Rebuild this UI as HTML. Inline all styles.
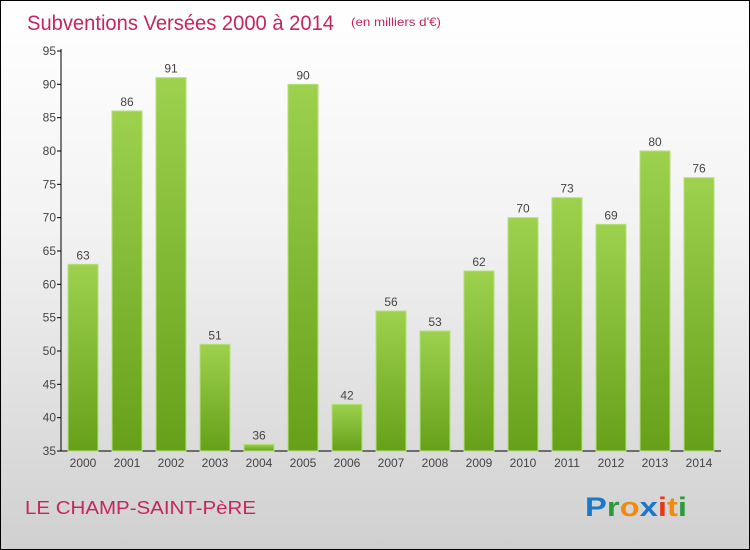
<!DOCTYPE html>
<html><head><meta charset="utf-8"><style>
body{margin:0}
#c{width:748px;height:548px;border:1px solid #000;background:linear-gradient(#ffffff,#f3f3f3 40%,#d0d0d0);position:relative;font-family:"Liberation Sans",sans-serif;overflow:hidden}
</style></head><body>
<div id="c">
<svg width="748" height="548" id="s">
<defs><linearGradient id="g" x1="0" y1="0" x2="0" y2="1"><stop offset="0" stop-color="#9dd14e"/><stop offset="1" stop-color="#66a019"/></linearGradient></defs>
<text x="26" y="29" font-size="21" fill="#c8245f" textLength="307" lengthAdjust="spacingAndGlyphs">Subventions Versées 2000 à 2014</text>
<text x="350" y="25" font-size="12" fill="#c8245f" textLength="90" lengthAdjust="spacingAndGlyphs">(en milliers d'€)</text>
<text x="24" y="513" font-size="18" fill="#c8245f" textLength="231" lengthAdjust="spacingAndGlyphs">LE CHAMP-SAINT-PèRE</text>
<text x="584" y="515" font-size="27" font-weight="bold" textLength="102" lengthAdjust="spacingAndGlyphs"><tspan fill="#1a78c8">P</tspan><tspan fill="#2a9a3a">r</tspan><tspan fill="#f08a10">o</tspan><tspan fill="#1a78c8">x</tspan><tspan fill="#e53a1a">i</tspan><tspan fill="#f08a10">t</tspan><tspan fill="#2a9a3a">i</tspan></text>
<g id="plot"></g>
</svg></div>
<script>
const categories=["2000","2001","2002","2003","2004","2005","2006","2007","2008","2009","2010","2011","2012","2013","2014"];
const values=[63,86,91,51,36,90,42,56,53,62,70,73,69,80,76];
const ticks=[35,40,45,50,55,60,65,70,75,80,85,90,95];
const NS="http://www.w3.org/2000/svg",p=document.getElementById('plot');
const y=v=>450-(v-35)*400/60, x=i=>67+i*44;
function mk(t,a){const e=document.createElementNS(NS,t);for(const k in a)e.setAttribute(k,a[k]);p.appendChild(e);return e;}
let ax=mk('line',{x1:60,y1:48,x2:60,y2:450,stroke:'#000'});


let xa=mk('line',{x1:60,y1:450,x2:720,y2:450,stroke:'#000'});


ticks.forEach(t=>{
 let l=mk('line',{x1:56,y1:y(t),x2:60,y2:y(t),stroke:'#000'});
 
 
 let tx=mk('text',{x:55,y:y(t)+4,'font-size':12,fill:'#444','text-anchor':'end'});tx.textContent=t;
 
 
});
values.forEach((v,i)=>{
 let r=mk('rect',{x:x(i),y:y(v),width:30,height:450-y(v),fill:'url(#g)',stroke:'#b5e07a','stroke-width':1});
 
 
 let lb=mk('text',{x:x(i)+15,y:y(v)-5,'font-size':12,fill:'#444','text-anchor':'middle'});lb.textContent=v;
 
 
 let c=mk('text',{x:x(i)+15,y:466,'font-size':12,fill:'#444','text-anchor':'middle'});c.textContent=categories[i];
 
 
});
</script></body></html>
